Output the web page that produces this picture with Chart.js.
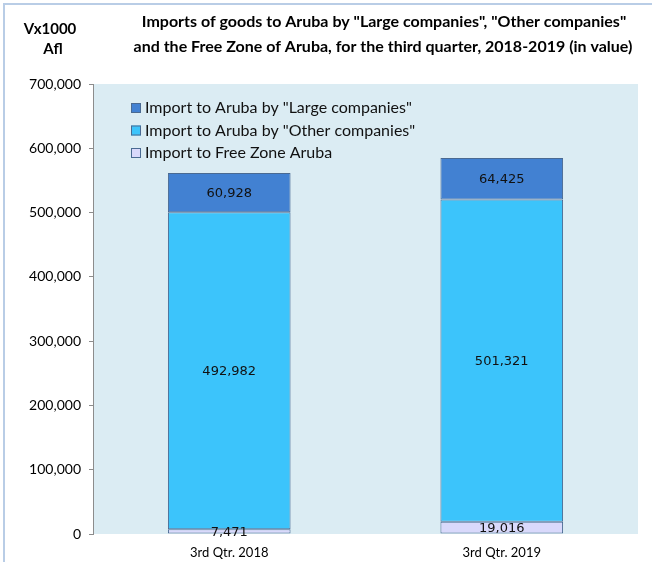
<!DOCTYPE html>
<html>
<head>
<meta charset="utf-8">
<script src="https://cdn.jsdelivr.net/npm/chart.js@4.4.1/dist/chart.umd.min.js"></script>
<style>
  html, body { margin: 0; padding: 0; background: #ffffff; }
  #wrap { width: 652px; height: 562px; position: relative; }
</style>
</head>
<body>
<div id="wrap"><canvas id="c" width="652" height="562"></canvas></div>
<script>
// ---- data ----
const categories = ["3rd Qtr. 2018", "3rd Qtr. 2019"];
const seriesNames = [
  "Import to Free Zone Aruba",
  "Import to Aruba by \"Other companies\"",
  "Import to Aruba by \"Large companies\""
];
const freeZone = [7471, 19016];
const otherCompanies = [492982, 501321];
const largeCompanies = [60928, 64425];
const yTicks = [0, 100000, 200000, 300000, 400000, 500000, 600000, 700000];
const titleLines = [
  "Imports of goods to Aruba by \"Large companies\", \"Other companies\"",
  "and the Free Zone of Aruba, for the third quarter, 2018-2019 (in value)"
];
const unitLines = ["Vx1000", "Afl"];

// ---- styles ----
const colors = ["#d9d9fb", "#3cc4fb", "#4281d2"];
const borderCol = "#4a6a92";
const plotBg = "#dbecf3";
const fontMain = "Lato, 'Open Sans', sans-serif";
const fontLabel = "'DejaVu Sans', sans-serif";
const fmt = v => Number(v).toLocaleString("en-US");

const seriesValues = [freeZone, otherCompanies, largeCompanies];
const datasets = seriesValues.map((vals, i) => ({
  label: seriesNames[i],
  data: vals,
  backgroundColor: colors[i],
  borderColor: borderCol,
  borderWidth: 1,
  borderSkipped: false,
  barPercentage: 0.45,
  categoryPercentage: 1.0
}));

const decor = {
  id: "decor",
  beforeDraw(chart) {
    const ctx = chart.ctx;
    const a = chart.chartArea;
    ctx.save();
    ctx.strokeStyle = "#b9cde6";
    ctx.lineWidth = 2;
    ctx.beginPath();
    ctx.moveTo(4, chart.height);
    ctx.lineTo(4, 4);
    ctx.lineTo(chart.width, 4);
    ctx.stroke();
    ctx.fillStyle = plotBg;
    ctx.fillRect(a.left, a.top, a.right - a.left, a.bottom - a.top);
    ctx.restore();
  },
  afterDatasetsDraw(chart) {
    const ctx = chart.ctx;
    ctx.save();
    ctx.font = "13px " + fontLabel;
    ctx.fillStyle = "#111111";
    ctx.textAlign = "center";
    ctx.textBaseline = "middle";
    chart.data.datasets.forEach((ds, di) => {
      const meta = chart.getDatasetMeta(di);
      meta.data.forEach((el, i) => {
        ctx.fillText(fmt(ds.data[i]), el.x, (el.y + el.base) / 2 + 1);
      });
    });
    ctx.restore();
  },
  afterDraw(chart) {
    const ctx = chart.ctx;
    const a = chart.chartArea;
    ctx.save();
    ctx.fillStyle = "#000000";
    ctx.textAlign = "center";
    ctx.textBaseline = "middle";
    ctx.font = "bold 16px " + fontMain;
    ctx.fillText(titleLines[0], 384, 22);
    ctx.fillText(titleLines[1], 383, 47);
    ctx.font = "bold 15px " + fontMain;
    ctx.fillText(unitLines[0], 50, 29);
    ctx.fillText(unitLines[1], 53, 49);
    ctx.font = "16px " + fontMain;
    ctx.textAlign = "left";
    const order = [2, 1, 0];
    order.forEach((di, k) => {
      const ds = chart.data.datasets[di];
      const cy = a.top + 24 + k * 22.5;
      const bx = a.left + 38;
      ctx.fillStyle = ds.backgroundColor;
      ctx.fillRect(bx, cy - 5, 10, 10);
      ctx.strokeStyle = borderCol;
      ctx.lineWidth = 1;
      ctx.strokeRect(bx + 0.5, cy - 4.5, 9, 9);
      ctx.fillStyle = "#111111";
      ctx.fillText(ds.label, bx + 14, cy);
    });
    ctx.restore();
  }
};

new Chart(document.getElementById("c"), {
  type: "bar",
  data: { labels: categories, datasets },
  options: {
    responsive: false,
    animation: false,
    layout: { padding: { top: 84, right: 14, bottom: 0, left: 0 } },
    plugins: {
      legend: { display: false },
      tooltip: { enabled: false },
      title: { display: false }
    },
    scales: {
      x: {
        stacked: true,
        afterFit: s => { s.height = 28; },
        grid: { display: false, drawTicks: false },
        border: { display: false },
        ticks: {
          color: "#000000",
          font: { family: fontMain, size: 13 },
          padding: 11,
          maxRotation: 0
        }
      },
      y: {
        stacked: true,
        min: 0,
        max: 700000,
        afterBuildTicks: s => { s.ticks = yTicks.map(v => ({ value: v })); },
        afterFit: s => { s.width = 93; },
        grid: { drawOnChartArea: false, drawTicks: true, tickLength: 4, color: "#8c8c8c" },
        border: { display: true, color: "#8c8c8c", width: 1 },
        ticks: {
          callback: v => fmt(v),
          color: "#000000",
          font: { family: fontMain, size: 14 },
          padding: 8
        }
      }
    }
  },
  plugins: [decor]
});
</script>
</body>
</html>
